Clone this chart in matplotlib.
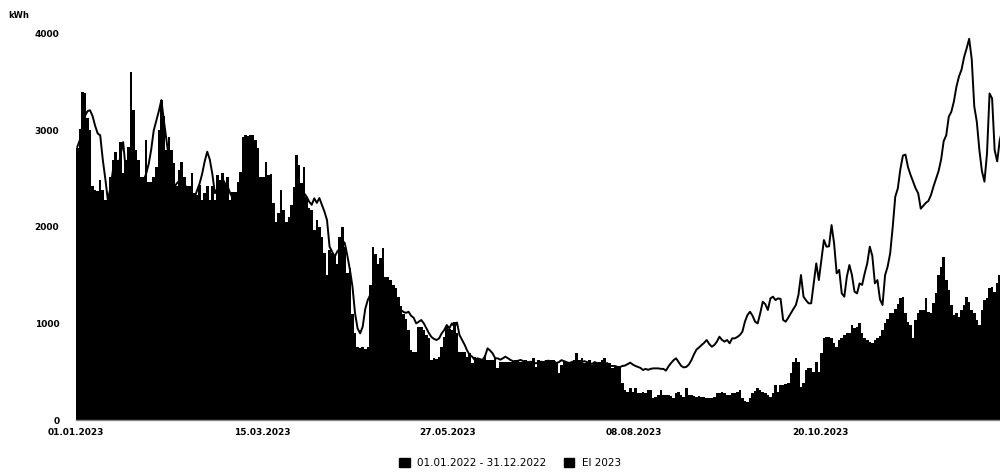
import numpy as np
import matplotlib
matplotlib.use("Agg")
import matplotlib.pyplot as plt
from matplotlib.patches import Patch

# daily kWh, 2023 (bars)
el_2023 = [
    2815, 3020, 3400, 3385, 3125, 3000, 2420, 2385, 2370, 2490,
    2385, 2280, 2280, 2520, 2690, 2780, 2690, 2880, 2555, 2690,
    2830, 3610, 3210, 2800, 2690, 2520, 2520, 2900, 2470, 2470,
    2520, 2620, 3000, 3320, 3150, 2800, 2935, 2800, 2660, 2420,
    2590, 2675, 2520, 2420, 2420, 2555, 2350, 2330, 2435, 2280,
    2350, 2420, 2280, 2420, 2280, 2540, 2490, 2555, 2450, 2520,
    2280, 2365, 2365,
    2470, 2570, 2935, 2950, 2940, 2950, 2950, 2900, 2815, 2520,
    2520, 2677, 2540, 2550, 2245, 2055, 2140, 2383, 2176, 2055,
    2100, 2228, 2418, 2745, 2642, 2452, 2625, 2314, 2200, 2176,
    1970, 2072, 2000, 1900, 1727, 1500, 1760, 1727, 1700, 1620,
    1900, 2003, 1796, 1520, 1570, 1100, 900, 760, 750, 760,
    740, 760, 1400, 1790, 1720, 1620, 1680, 1780, 1480, 1480,
    1450, 1400, 1364,
    1278, 1180, 1100, 1050, 932, 725, 708, 708, 967, 967,
    932, 880, 846, 622, 640, 630, 650, 760, 863, 967,
    940, 932, 1019, 898, 708, 708, 700, 656, 690, 587,
    656, 639, 622, 622, 673, 622, 622, 622, 656, 535,
    604, 604, 604, 604, 604, 610, 622, 622, 604, 604,
    622, 604, 604, 639, 553, 622, 604, 604, 622, 622,
    622, 622, 604, 483, 570, 604, 604, 587, 604, 622,
    697, 622, 639, 587, 587, 622, 570, 587, 587, 604,
    622, 639, 587, 587, 535, 553, 553, 553, 380, 311,
    294, 328, 294, 328, 276, 276, 294, 276, 311, 311,
    225, 242, 259, 311, 259, 259, 259, 250, 225, 276,
    294, 259, 242, 328, 259, 259, 250, 242, 250, 242,
    242, 225, 225, 225, 240,
    276, 276, 294, 276, 259, 259, 276, 276, 290, 311,
    225, 200, 190, 225, 276, 300, 328, 311, 290, 276,
    259, 242, 276, 363, 294, 363, 363, 370, 380, 483,
    605, 639, 605, 345, 380, 518, 535, 535, 501, 605,
    501, 691, 846, 863, 863, 846, 795, 760, 829, 846,
    880, 898, 898, 984, 950, 967, 1001, 898, 846, 829,
    812,
    794, 829, 850, 870, 932, 1010, 1050, 1105, 1110, 1150,
    1200, 1260, 1278, 1105, 1019, 984, 846, 1036, 1105, 1140,
    1140, 1260, 1122, 1105, 1209, 1312, 1500, 1589, 1692, 1450,
    1347, 1192, 1088, 1105, 1070, 1140, 1192, 1278, 1226, 1140,
    1105, 1036, 984, 1140, 1243, 1260, 1364, 1381, 1330, 1416,
    1502, 1416, 1400,
]

# daily kWh, 01.01.2022 - 31.12.2022 (line)
y_2022 = [
    2830, 2900, 3050, 3150, 3200, 3210, 3150, 3050, 2970, 2950,
    2700, 2500, 2280, 2400, 2590, 2650, 2600, 2750, 2880, 2600,
    2570, 2500, 2550, 2600, 2520, 2500, 2480, 2550, 2650, 2800,
    3000, 3100, 3200, 3315, 3100, 2900, 2700, 2500, 2410, 2450,
    2480, 2500, 2450, 2400, 2380, 2350, 2300, 2380, 2450, 2550,
    2680, 2780, 2700, 2550, 2350, 2400, 2450, 2500, 2450, 2420,
    2350, 2300, 2350,
    2300, 2350, 2400, 2450, 2500, 2450, 2400, 2380, 2350, 2300,
    2250, 2200, 2150, 2100, 2050, 2000, 2000, 2050, 2050, 2000,
    2050, 2100, 2200, 2250, 2300, 2350, 2350, 2314, 2263, 2230,
    2297, 2250, 2300, 2228, 2159, 2072, 1796, 1744, 1693, 1744,
    1779, 1865, 1830, 1700, 1555, 1381, 1105, 950, 898, 967,
    1150, 1243, 1300, 1350, 1380, 1350, 1320, 1300, 1280, 1260,
    1240, 1220, 1200,
    1180, 1140, 1120, 1110, 1122, 1080, 1060, 1001, 1019, 1036,
    1001, 950, 900, 860, 840, 829, 846, 898, 932, 984,
    950, 1001, 967, 1010, 880, 829, 780, 720, 673, 656,
    622, 639, 630, 622, 660, 742, 720, 690, 639, 639,
    625, 639, 656, 640, 622, 610, 604, 615, 622, 610,
    604, 600, 604, 595, 587, 595, 604, 600, 610, 615,
    600, 610, 590, 600, 620, 610, 600, 590, 600, 610,
    600, 590, 600, 610, 600, 590, 580, 600, 590, 580,
    570, 580, 590, 560, 560, 560, 550,
    550, 560, 565, 580, 594, 575, 560, 550, 540, 518,
    530, 520, 530, 535, 535, 535, 530, 530, 512, 555,
    590, 620, 639, 600, 560, 545, 550, 575, 620, 680,
    730, 752, 777, 800, 829, 787, 760, 777,
    812, 863, 830, 812, 829, 795, 846, 846, 860, 880,
    915, 1019, 1088, 1122, 1080, 1019, 1001, 1105, 1226, 1200,
    1140, 1260, 1278, 1243, 1260, 1255, 1036, 1019, 1060, 1105,
    1150, 1192, 1295, 1502, 1278, 1240, 1209, 1209, 1416, 1623,
    1450, 1658, 1865, 1796, 1800, 2020, 1830, 1520, 1555, 1312,
    1278, 1485, 1606, 1502, 1330, 1312, 1416, 1400, 1520, 1623,
    1796,
    1700, 1416, 1450, 1250, 1192, 1500, 1589, 1727, 2000, 2314,
    2400, 2600, 2740, 2750, 2620, 2540, 2470, 2400, 2349, 2190,
    2220, 2250, 2270, 2330, 2420, 2500, 2580, 2700, 2890, 2950,
    3143, 3194, 3300, 3453, 3560, 3630, 3760, 3850, 3950, 3740,
    3250, 3090, 2800, 2580, 2470, 2763, 3384, 3332, 2797, 2680,
    2900, 3004, 3000,
]

tick_days = [0, 73, 146, 219, 292]
tick_labels = ["01.01.2023", "15.03.2023", "27.05.2023", "08.08.2023", "20.10.2023"]
y_ticks = [0, 1000, 2000, 3000, 4000]

days = np.arange(len(el_2023))

fig = plt.figure(figsize=(10, 4.73), dpi=100)
ax = fig.add_axes([0.076, 53 / 473, 0.924, 386 / 473])

ax.bar(days, el_2023, width=1.0, align="edge", color="black",
       linewidth=0, antialiased=False)
ax.plot(days + 0.5, y_2022, color="black", linewidth=1.4)

ax.set_xlim(0, 362.6)
ax.set_ylim(0, 4000)
ax.set_xticks(tick_days)
ax.set_xticklabels(tick_labels, fontsize=6.5, fontweight="bold")
ax.set_yticks(y_ticks)
ax.set_yticklabels([str(v) for v in y_ticks], fontsize=6.5, fontweight="bold")
ax.tick_params(axis="x", length=0, pad=6)
ax.tick_params(axis="y", length=0, pad=12)

for side in ["top", "right", "left"]:
    ax.spines[side].set_visible(False)
ax.spines["bottom"].set_color("#888888")
ax.spines["bottom"].set_linewidth(1.0)

fig.text(0.008, 1 - 15 / 473, "kWh", fontsize=6, fontweight="bold",
         va="center", ha="left")

handles = [Patch(facecolor="black", edgecolor="black"),
           Patch(facecolor="black", edgecolor="black")]
fig.legend(handles, ["01.01.2022 - 31.12.2022", "El 2023"],
           loc="center", bbox_to_anchor=(0.51, 1 - 463 / 473), ncol=2,
           frameon=False, fontsize=7.5, handlelength=1.0, handleheight=1.0,
           handletextpad=0.7, columnspacing=1.7)

fig.savefig("out.png", dpi=100)
